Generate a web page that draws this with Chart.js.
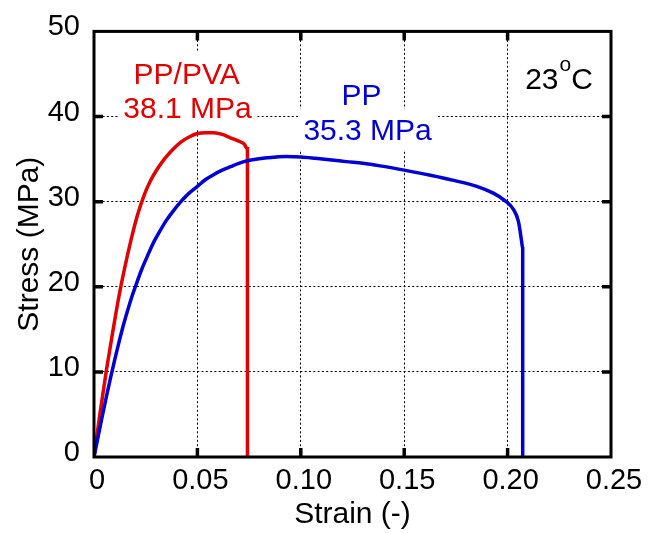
<!DOCTYPE html>
<html><head><meta charset="utf-8">
<script src="https://cdn.jsdelivr.net/npm/chart.js@4/dist/chart.umd.min.js"></script>
<style>html,body{margin:0;padding:0;background:#fff;overflow:hidden}</style>
</head><body>
<canvas id="c" width="649" height="533" style="width:649px;height:533px;display:block"></canvas>
<script>
// ---- data ----
const ppPvaStrain = [0, 0.003, 0.006, 0.009, 0.012, 0.015, 0.018, 0.021, 0.024, 0.027, 0.030, 0.034, 0.038, 0.042, 0.046, 0.050, 0.054, 0.058, 0.062, 0.066, 0.070, 0.0725, 0.0742, 0.0742];
const ppPvaStress = [0, 5.3, 10.2, 14.6, 18.8, 22.4, 25.6, 28.4, 30.6, 32.3, 33.6, 35.0, 36.1, 37.0, 37.6, 38.0, 38.1, 38.1, 37.9, 37.5, 37.1, 36.8, 36.2, 0];
const ppStrain = [0, 0.002, 0.004, 0.006, 0.008, 0.010, 0.012, 0.014, 0.016, 0.018, 0.020, 0.023, 0.026, 0.029, 0.032, 0.035, 0.038, 0.042, 0.046, 0.050, 0.054, 0.058, 0.062, 0.066, 0.070, 0.0742, 0.079, 0.0838, 0.093, 0.100, 0.107, 0.115, 0.122, 0.130, 0.1383, 0.150, 0.1627, 0.1739, 0.1851, 0.1931, 0.1988, 0.2028, 0.2052, 0.2068, 0.2073, 0.2073];
const ppStress = [0, 2.4, 4.8, 7.1, 9.3, 11.4, 13.4, 15.3, 17.0, 18.6, 20.0, 22.0, 23.7, 25.3, 26.6, 27.8, 28.8, 30.0, 31.0, 31.8, 32.6, 33.2, 33.7, 34.1, 34.5, 34.8, 35.0, 35.15, 35.3, 35.25, 35.1, 34.9, 34.7, 34.5, 34.2, 33.7, 33.1, 32.5, 31.8, 31.0, 30.1, 29.1, 27.7, 25.3, 24.5, 0];
const xTicks = [0, 0.05, 0.10, 0.15, 0.20, 0.25];
const xTickLabels = ['0', '0.05', '0.10', '0.15', '0.20', '0.25'];
const yTicks = [0, 10, 20, 30, 40, 50];
const yTickLabels = ['0', '10', '20', '30', '40', '50'];
const xTitle = 'Strain (-)';
const yTitle = 'Stress (MPa)';

const RED = '#e00000';
const BLUE = '#0000d2';
const FONT = "'Liberation Sans', Arial, Helvetica, sans-serif";

const toPts = (xs, ys) => xs.map((x, i) => ({x: x, y: ys[i]}));

// text labels placed in data units
const notes = [
  {text: 'PP/PVA', x: 0.0448, y: 43.84, color: RED},
  {text: '38.1 MPa', x: 0.0452, y: 39.77, color: RED},
  {text: 'PP', x: 0.1294, y: 41.31, color: BLUE},
  {text: '35.3 MPa', x: 0.1323, y: 37.24, color: BLUE}
];

const framePlugin = {
  id: 'frame',
  beforeDatasetsDraw(chart) {
    const {ctx, scales: {x, y}} = chart;
    ctx.save();
    ctx.font = '30px ' + FONT;
    ctx.textBaseline = 'alphabetic';
    ctx.textAlign = 'center';
    notes.forEach(n => {
      const px = x.getPixelForValue(n.x), py = y.getPixelForValue(n.y);
      const w = ctx.measureText(n.text).width;
      ctx.fillStyle = '#fff';
      ctx.fillRect(px - w / 2 - 4, py - 31, w + 8, 41);
      ctx.fillStyle = n.color;
      ctx.fillText(n.text, px, py);
    });
    // 23°C with superscript o
    const tx = x.getPixelForValue(0.2085), ty = y.getPixelForValue(43.26);
    ctx.textAlign = 'left';
    ctx.fillStyle = '#000';
    ctx.font = '30px ' + FONT;
    ctx.fillText('23', tx, ty);
    let w = ctx.measureText('23').width;
    ctx.font = '21px ' + FONT;
    ctx.fillText('o', tx + w + 1, ty - 18);
    const w2 = ctx.measureText('o').width;
    ctx.font = '30px ' + FONT;
    ctx.fillText('C', tx + w + w2 + 1, ty);
    ctx.restore();
  },
  afterDatasetsDraw(chart) {
    const {ctx, chartArea: a, scales: {x, y}} = chart;
    ctx.save();
    ctx.strokeStyle = '#000';
    ctx.lineWidth = 3;
    ctx.strokeRect(a.left, a.top, a.right - a.left, a.bottom - a.top);
    ctx.lineWidth = 3.5;
    ctx.beginPath();
    xTicks.slice(1, -1).forEach(v => {
      const p = x.getPixelForValue(v);
      ctx.moveTo(p, a.bottom); ctx.lineTo(p, a.bottom - 9);
      ctx.moveTo(p, a.top); ctx.lineTo(p, a.top + 9);
    });
    yTicks.slice(1, -1).forEach(v => {
      const p = y.getPixelForValue(v);
      ctx.moveTo(a.left, p); ctx.lineTo(a.left + 9, p);
      ctx.moveTo(a.right, p); ctx.lineTo(a.right - 9, p);
    });
    ctx.stroke();
    ctx.restore();
  }
};

new Chart(document.getElementById('c'), {
  type: 'scatter',
  data: {
    datasets: [
      {label: 'PP', data: toPts(ppStrain, ppStress), showLine: true, borderColor: BLUE, borderWidth: 3.5, pointRadius: 0, cubicInterpolationMode: 'monotone', fill: false},
      {label: 'PP/PVA', data: toPts(ppPvaStrain, ppPvaStress), showLine: true, borderColor: RED, borderWidth: 3.5, pointRadius: 0, cubicInterpolationMode: 'monotone', fill: false}
    ]
  },
  options: {
    responsive: false,
    animation: false,
    devicePixelRatio: 1,
    layout: {padding: {left: 0, right: 38, top: 27, bottom: 0}},
    plugins: {legend: {display: false}, tooltip: {enabled: false}},
    scales: {
      x: {
        type: 'linear', min: 0, max: 0.25,
        afterBuildTicks: s => { s.ticks = xTicks.map(v => ({value: v})); },
        afterFit: s => { s.height = 76; },
        ticks: {color: '#000', font: {family: FONT, size: 29}, padding: 7, labelOffset: 3, maxRotation: 0, autoSkip: false,
          callback: (v, i) => xTickLabels[i]},
        grid: {color: '#000', lineWidth: 1, drawTicks: false},
        border: {display: false, dash: [2, 2.3]},
        title: {display: true, text: xTitle, color: '#000', font: {family: FONT, size: 30}, padding: {top: 0, bottom: 0}}
      },
      y: {
        type: 'linear', min: 0, max: 50,
        afterBuildTicks: s => { s.ticks = yTicks.map(v => ({value: v})); },
        afterFit: s => { s.width = 94; },
        ticks: {color: '#000', font: {family: FONT, size: 29}, padding: 14, labelOffset: -4, autoSkip: false,
          callback: (v, i) => yTickLabels[i]},
        grid: {color: '#000', lineWidth: 1, drawTicks: false},
        border: {display: false, dash: [2, 2.3]},
        title: {display: true, text: yTitle, color: '#000', font: {family: FONT, size: 30}, padding: {top: 12, bottom: 0}}
      }
    }
  },
  plugins: [framePlugin]
});
</script>
</body></html>
